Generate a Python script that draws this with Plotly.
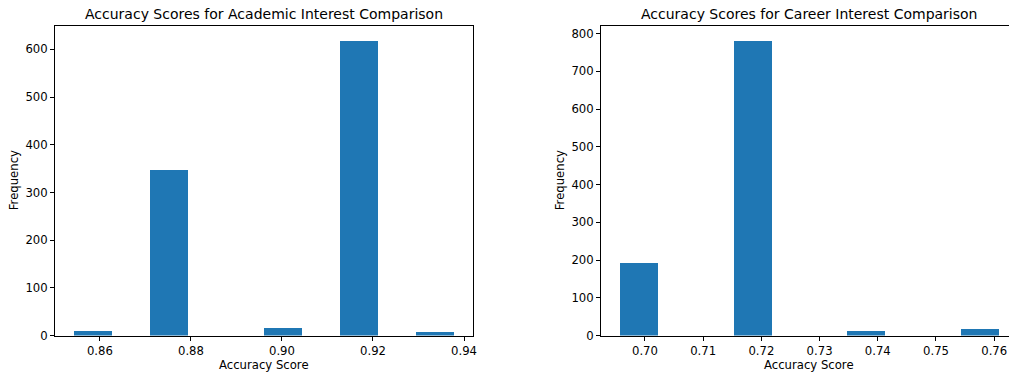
import numpy as np
import plotly.graph_objects as go

# Histogram counts (10 equal-width bins) and the score range they span
academic_counts = [10, 0, 348, 0, 0, 16, 0, 618, 0, 8]
academic_min, academic_max = 0.8543, 0.9378
academic_ticks = [0.86, 0.88, 0.90, 0.92, 0.94]
academic_yticks = [0, 100, 200, 300, 400, 500, 600]

career_counts = [191, 0, 0, 781, 0, 0, 12, 0, 0, 16]
career_min, career_max = 0.6957, 0.7608
career_ticks = [0.70, 0.71, 0.72, 0.73, 0.74, 0.75, 0.76]
career_yticks = [0, 100, 200, 300, 400, 500, 600, 700, 800]

W, H = 1009, 376
BLUE = "#1f77b4"
FONT = "DejaVu Sans"
TICK_SIZE = 11.67
TITLE_SIZE = 14


def bins(lo, hi, counts):
    edges = np.linspace(lo, hi, len(counts) + 1)
    centers = (edges[:-1] + edges[1:]) / 2
    return centers, edges[1] - edges[0]


def padded(lo, hi, frac=0.05):
    span = hi - lo
    return lo - frac * span, hi + frac * span


fig = go.Figure()

ac, aw = bins(academic_min, academic_max, academic_counts)
fig.add_trace(go.Bar(x=ac, y=academic_counts, width=aw, marker=dict(color=BLUE, line_width=0),
                     xaxis="x", yaxis="y", showlegend=False))
cc, cw = bins(career_min, career_max, career_counts)
fig.add_trace(go.Bar(x=cc, y=career_counts, width=cw, marker=dict(color=BLUE, line_width=0),
                     xaxis="x2", yaxis="y2", showlegend=False))

# Plot areas in pixels
L1, R1 = 55, 473
L2, R2_full = 601, 1017.8
TOP, BOT = 26, 335.5

a_lo, a_hi = padded(academic_min, academic_max)
c_lo, c_hi = padded(career_min, career_max)
# the right panel runs past the page edge; show only the visible part
c_hi_vis = c_lo + (c_hi - c_lo) * (W - L2) / (R2_full - L2)

axis_common = dict(showgrid=False, zeroline=False, showline=True, linecolor="black", linewidth=1,
                   ticks="outside", ticklen=4, tickcolor="black", tickwidth=1, automargin=False,
                   tickfont=dict(family=FONT, size=TICK_SIZE, color="black"))

ydom = [(H - BOT) / H, (H - TOP) / H]

fig.update_layout(
    template="none",
    width=W, height=H, margin=dict(l=0, r=0, t=0, b=0, pad=0), autosize=False,
    paper_bgcolor="white", plot_bgcolor="white", bargap=0, showlegend=False,
    font=dict(family=FONT, color="black"),
    xaxis=dict(domain=[L1 / W, R1 / W], range=[a_lo, a_hi], tickvals=academic_ticks,
               ticktext=[f"{t:.2f}" for t in academic_ticks], mirror=True, anchor="y", **axis_common),
    yaxis=dict(domain=ydom, range=[0, max(academic_counts) * 1.05], tickvals=academic_yticks,
               mirror=True, anchor="x", **axis_common),
    xaxis2=dict(domain=[L2 / W, 1.0], range=[c_lo, c_hi_vis], tickvals=career_ticks,
                ticktext=[f"{t:.2f}" for t in career_ticks], mirror=True, anchor="y2", **axis_common),
    yaxis2=dict(domain=ydom, range=[0, max(career_counts) * 1.05], tickvals=career_yticks,
                mirror=False, anchor="x2", **axis_common),
)


def ann(text, x, y, size, angle=0):
    fig.add_annotation(text=text, x=x / W, y=1 - y / H, xref="paper", yref="paper",
                       showarrow=False, textangle=angle, xanchor="center", yanchor="middle",
                       font=dict(family=FONT, size=size, color="black"))


ann("Accuracy Scores for Academic Interest Comparison", (L1 + R1) / 2, 13.5, TITLE_SIZE)
ann("Accuracy Scores for Career Interest Comparison", (L2 + R2_full) / 2, 13.5, TITLE_SIZE)
ann("Accuracy Score", (L1 + R1) / 2, 365, TICK_SIZE)
ann("Accuracy Score", (L2 + R2_full) / 2, 365, TICK_SIZE)
ann("Frequency", 13.5, (TOP + BOT) / 2, TICK_SIZE, -90)
ann("Frequency", 559.5, (TOP + BOT) / 2, TICK_SIZE, -90)

fig.write_html("out.html")
